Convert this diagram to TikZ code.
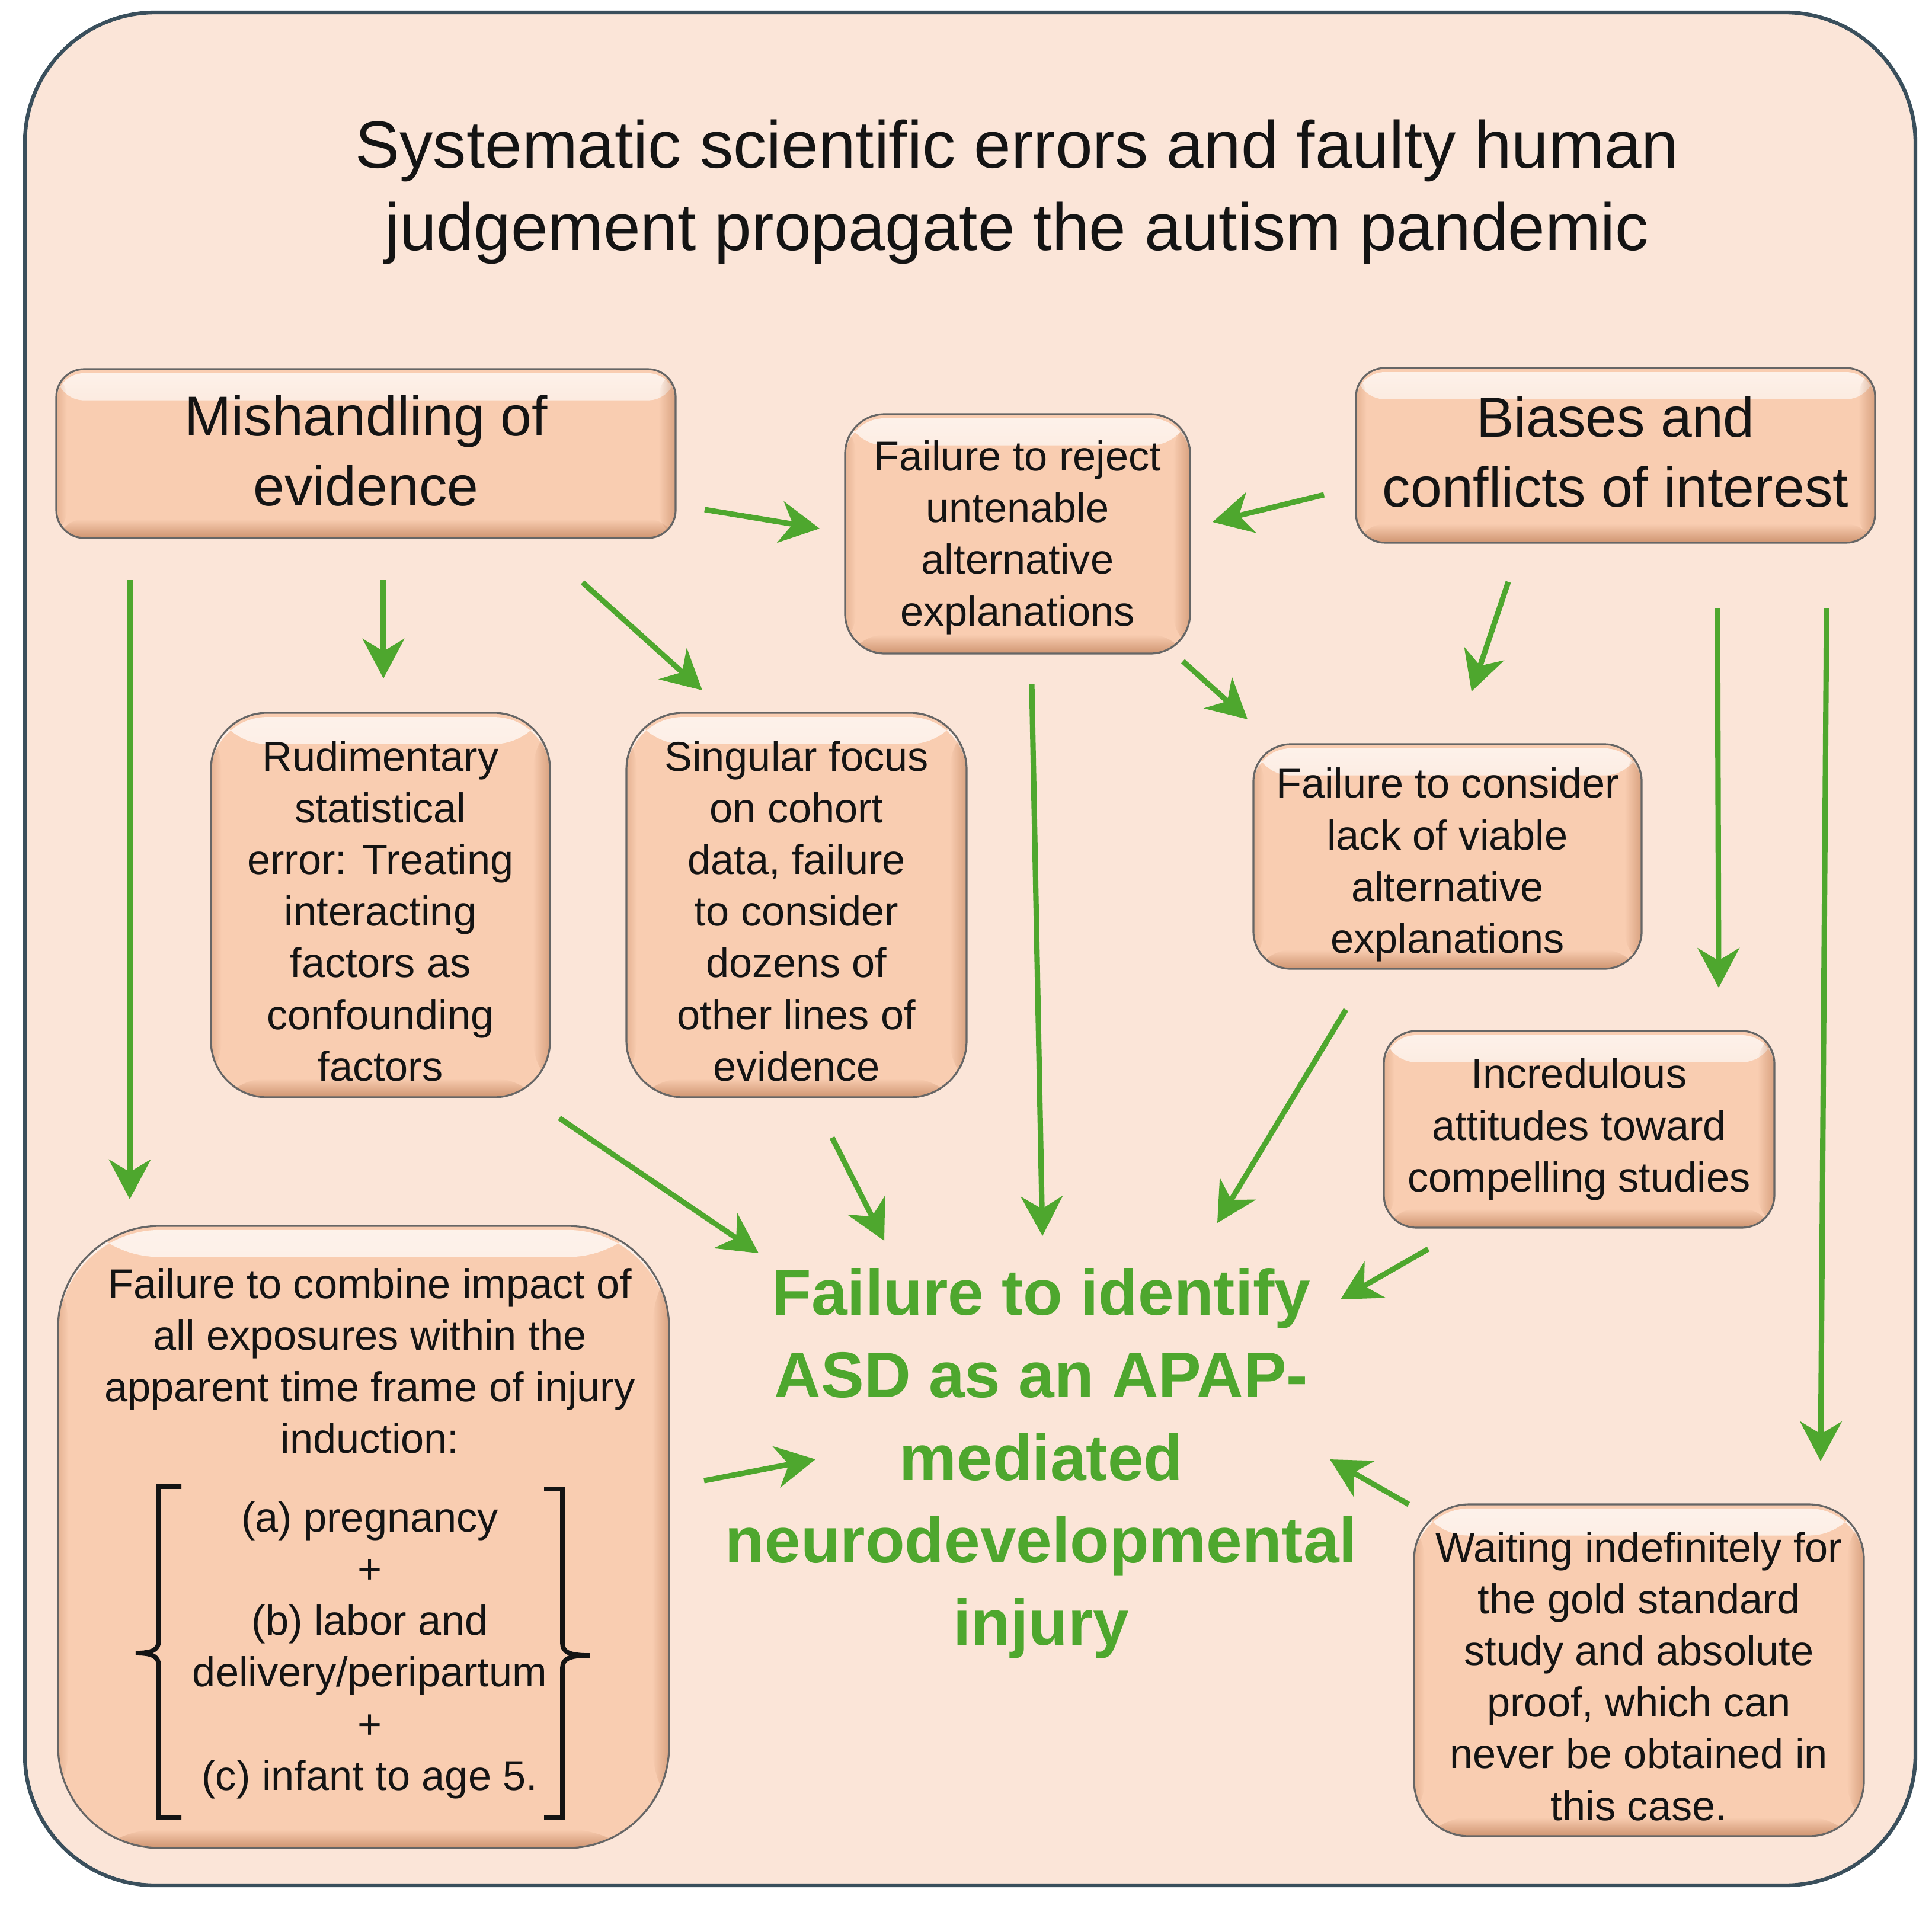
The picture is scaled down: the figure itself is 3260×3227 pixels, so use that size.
\documentclass[tikz,border=0pt]{standalone}
\usepackage{fontspec}
\setmainfont{Liberation Sans}
\usetikzlibrary{arrows.meta,fadings}
\definecolor{framebg}{HTML}{FBE5D8}
\definecolor{framedraw}{HTML}{3A4F5C}
\definecolor{boxfill}{HTML}{F9CDB1}
\definecolor{boxshade}{HTML}{B9774F}
\definecolor{grn}{HTML}{4EA72E}
\definecolor{txt}{HTML}{141414}
\tikzfading[name=fadetop, top color=transparent!0, bottom color=transparent!100]
\tikzfading[name=fadebot, top color=transparent!100, bottom color=transparent!0]
\tikzfading[name=faderight, left color=transparent!100, right color=transparent!0]
\tikzfading[name=fadeleft, left color=transparent!0, right color=transparent!100]
\tikzset{
  box/.style={draw=black!60, line width=0.9pt, fill=boxfill, inner sep=0pt,
    path picture={
      \fill[white, opacity=0.75, path fading=fadetop]
        ([yshift=-2pt]path picture bounding box.north west) rectangle ([yshift=-15pt]path picture bounding box.north east);
      \fill[boxshade, opacity=0.65, path fading=fadebot]
        ([yshift=9pt]path picture bounding box.south west) rectangle (path picture bounding box.south east);
      \fill[boxshade, opacity=0.5, path fading=faderight]
        ([xshift=-8pt]path picture bounding box.north east) rectangle (path picture bounding box.south east);
      \fill[boxshade, opacity=0.3, path fading=fadeleft]
        (path picture bounding box.north west) rectangle ([xshift=5pt]path picture bounding box.south west);
    }},
  boxtext/.style={align=center, inner sep=0pt, text=txt},
  bigtxt/.style={font=\fontsize{27}{33.6}\selectfont},
  smtxt/.style={font=\fontsize{20}{24.8}\selectfont},
  arr/.style={draw=grn, line width=2.6pt, -{Stealth[length=19pt,width=20pt,inset=6pt]}},
  brk/.style={draw=txt, line width=2.2pt, line join=miter}
}
\newcommand{\mkbox}[9]{%
  \pgfmathsetmacro\bxw{(#4-#2)*0.01}%
  \pgfmathsetmacro\bxh{(#5-#3)*0.01}%
  \pgfmathsetmacro\bxr{#6*0.01}%
  \pgfmathsetmacro\bxcx{(#2+#4)/2}%
  \pgfmathsetmacro\bxcy{(#3+#5)/2+#9}%
  \node[box, minimum width=\bxw cm, minimum height=\bxh cm, rounded corners=\bxr cm] (#1) at ({(#2+#4)/2},{(#3+#5)/2}) {};%
  \node[boxtext, #7] (#1t) at (\bxcx,\bxcy) {#8};%
}
\begin{document}
\begin{tikzpicture}[x=0.01cm, y=-0.01cm]
\useasboundingbox (0,0) rectangle (3260,3227);
\fill[white] (0,0) rectangle (3260,3227);
\draw[framedraw, line width=1.8pt, fill=framebg, rounded corners=2.2cm] (42,21) rectangle (3232,3182);

\node[font=\fontsize{32}{39.6}\selectfont, align=center, text=txt] (title) at (1716,324)
  {Systematic scientific errors and faulty human\\judgement propagate the autism pandemic};

\mkbox{mish}{95}{623}{1140}{908}{47}{bigtxt}{Mishandling of\\evidence}{-5}
\mkbox{reject}{1426}{699}{2008}{1103}{67}{smtxt}{Failure to reject\\untenable\\alternative\\explanations}{6}
\mkbox{bias}{2288}{621}{3164}{916}{49}{bigtxt}{Biases and\\conflicts of interest}{-6}
\mkbox{rudi}{356}{1203}{928}{1852}{95}{smtxt}{Rudimentary\\statistical\\error: Treating\\interacting\\factors as\\confounding\\factors}{10}
\mkbox{sing}{1057}{1203}{1631}{1852}{96}{smtxt}{Singular focus\\on cohort\\data, failure\\to consider\\dozens of\\other lines of\\evidence}{10}
\mkbox{cons}{2115}{1256}{2770}{1635}{63}{smtxt}{Failure to consider\\lack of viable\\alternative\\explanations}{14}
\mkbox{incr}{2335}{1740}{2994}{2072}{55}{smtxt}{Incredulous\\attitudes toward\\compelling studies}{0}
\mkbox{wait}{2386}{2539}{3145}{3099}{93}{smtxt}{Waiting indefinitely for\\the gold standard\\study and absolute\\proof, which can\\never be obtained in\\this case.}{10}
\mkbox{comb}{98}{2069}{1129}{3119}{172}{smtxt}{}{0}

\node[boxtext, smtxt] (combtxt) at (624,2297)
  {Failure to combine impact of\\all exposures within the\\apparent time frame of injury\\induction:};
\node[boxtext, smtxt] (periods) at (624,2785)
  {(a) pregnancy\\+\\(b) labor and\\delivery/peripartum\\+\\(c) infant to age 5.};

\draw[brk] (306,2509) -- (268,2509) -- (268,2768) .. controls (268,2784) and (258,2790) .. (229,2790)
  .. controls (258,2790) and (268,2796) .. (268,2812) -- (268,3068) -- (306,3068);
\draw[brk] (918,2513) -- (949,2513) -- (949,2772) .. controls (949,2788) and (959,2794) .. (995,2794)
  .. controls (959,2794) and (949,2800) .. (949,2816) -- (949,3068) -- (918,3068);

\node[font=\fontsize{31}{39.6}\selectfont\bfseries, align=center, text=grn] (goal) at (1757,2470)
  {Failure to identify\\ASD as an APAP-\\mediated\\neurodevelopmental\\injury};

\coordinate (a1s) at (1189,860);  \coordinate (a1e) at (1383,892);
\coordinate (a2s) at (2234,835);  \coordinate (a2e) at (2046,881);
\coordinate (a3s) at (219,979);   \coordinate (a3e) at (219,2024);
\coordinate (a4s) at (647,979);   \coordinate (a4e) at (647,1145);
\coordinate (a5s) at (983,983);   \coordinate (a5e) at (1185,1165);
\coordinate (a6s) at (2545,982);  \coordinate (a6e) at (2483,1167);
\coordinate (a7s) at (2898,1027); \coordinate (a7e) at (2900,1667);
\coordinate (a8s) at (3082,1027); \coordinate (a8e) at (3072,2466);
\coordinate (a9s) at (1996,1116); \coordinate (a9e) at (2105,1214);
\coordinate (a10s) at (1741,1155); \coordinate (a10e) at (1759,2086);
\coordinate (a11s) at (944,1887);  \coordinate (a11e) at (1280,2115);
\coordinate (a12s) at (1404,1920); \coordinate (a12e) at (1492,2094);
\coordinate (a13s) at (2271,1704); \coordinate (a13e) at (2054,2064);
\coordinate (a14s) at (2410,2108); \coordinate (a14e) at (2262,2193);
\coordinate (a15s) at (1188,2499); \coordinate (a15e) at (1376,2463);
\coordinate (a16s) at (2377,2539); \coordinate (a16e) at (2244,2463);

\foreach \i in {1,...,16} { \draw[arr] (a\i s) -- (a\i e); }
\end{tikzpicture}
\end{document}
